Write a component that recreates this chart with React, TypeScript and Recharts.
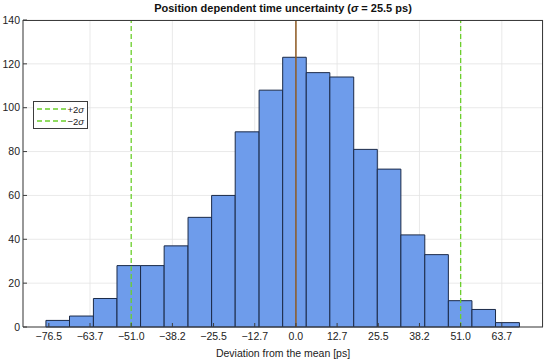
import React from 'react';
import {
  ComposedChart,
  XAxis,
  YAxis,
  CartesianGrid,
  ReferenceArea,
  ReferenceLine,
  Line,
} from 'recharts';

// histogram bin edges (ps) and counts
const binEdges = [
  -77.4, -70.1, -62.7, -55.4, -48.1, -40.8, -33.4, -26.1, -18.8, -11.4, -4.1,
  3.2, 10.5, 17.9, 25.2, 32.5, 39.9, 47.2, 54.5, 61.8, 69.2,
];
const counts = [3, 5, 13, 28, 28, 37, 50, 60, 89, 108, 123, 116, 114, 81, 72, 42, 33, 12, 8, 2];

const xTicks = [-76.5, -63.75, -51, -38.25, -25.5, -12.75, 0, 12.75, 25.5, 38.25, 51, 63.75];
const xTickLabels = ['−76.5', '−63.7', '−51.0', '−38.2', '−25.5', '−12.7', '0.0', '12.7', '25.5', '38.2', '51.0', '63.7'];
const yTicks = [0, 20, 40, 60, 80, 100, 120, 140];

const sigma = 25.5;
const plusTwoSigma = 51;
const minusTwoSigma = -51;
const meanLine = 0;

const bins = counts.map((c, i) => ({ x0: binEdges[i], x1: binEdges[i + 1], count: c }));

const FONT = 'Arial, "Liberation Sans", Helvetica, sans-serif';
const GREEN = '#6ccf2c';
const BAR_FILL = '#6e9ceb';
const BAR_EDGE = '#1b2a48';
const AXIS = '#3c3c3c';

function SigmaLegend() {
  const row = (label: string) => (
    <div style={{ display: 'flex', alignItems: 'center', height: 12 }}>
      <svg width={34} height={6}>
        <line x1={2} y1={3} x2={32} y2={3} stroke={GREEN} strokeWidth={1.3} strokeDasharray="5 3" />
      </svg>
      <span style={{ fontSize: 9.5, marginLeft: 1 }}>
        {label}
        <i>σ</i>
      </span>
    </div>
  );
  return (
    <div
      style={{
        position: 'absolute',
        left: 33,
        top: 101,
        border: `1px solid ${AXIS}`,
        background: '#fff',
        padding: '1px 3px 1px 1px',
        width: 49,
        fontFamily: FONT,
        color: '#222',
      }}
    >
      {row('+2')}
      {row('−2')}
    </div>
  );
}

export default function App() {
  return (
    <div style={{ position: 'absolute', left: 0, top: 0, width: 550, height: 360, background: '#fff', fontFamily: FONT }}>
      <div
        style={{
          position: 'absolute',
          left: 23,
          width: 520,
          top: 2,
          textAlign: 'center',
          fontSize: 11,
          fontWeight: 'bold',
          color: '#111',
        }}
      >
        Position dependent time uncertainty (<i>σ</i> = {sigma} ps)
      </div>
      <ComposedChart
        width={550}
        height={360}
        data={bins}
        margin={{ top: 20, right: 7, left: 3, bottom: 0 }}
      >
        <CartesianGrid stroke="#e3e3e3" strokeWidth={0.8} />
        <XAxis
          type="number"
          dataKey="x0"
          domain={[-84.5, 76.5]}
          ticks={xTicks}
          tickFormatter={(v: number) => xTickLabels[xTicks.indexOf(v)] ?? String(v)}
          allowDataOverflow
          height={33}
          stroke={AXIS}
          tick={{ fontSize: 10.5, fill: '#222' }}
          tickSize={-4}
          tickMargin={10}
          label={{ value: 'Deviation from the mean [ps]', position: 'insideBottom', offset: 3, fontSize: 10.5, fill: '#222' }}
        />
        <YAxis
          type="number"
          domain={[0, 140]}
          ticks={yTicks}
          width={20}
          stroke={AXIS}
          tick={{ fontSize: 10.5, fill: '#222' }}
          tickSize={-4}
          tickMargin={7}
        />
        {bins.map((b, i) => (
          <ReferenceArea
            key={`bin-${i}`}
            x1={b.x0}
            x2={b.x1}
            y1={0}
            y2={b.count}
            fill={BAR_FILL}
            fillOpacity={1}
            stroke={BAR_EDGE}
            strokeWidth={1}
          />
        ))}
        <ReferenceLine x={meanLine} stroke="#8f5a22" strokeWidth={1.5} />
        <ReferenceLine x={plusTwoSigma} stroke={GREEN} strokeWidth={1.3} strokeDasharray="5 3" />
        <ReferenceLine x={minusTwoSigma} stroke={GREEN} strokeWidth={1.3} strokeDasharray="5 3" />
        <Line dataKey="count" stroke="none" dot={false} isAnimationActive={false} legendType="none" />
      </ComposedChart>
      <div
        style={{
          position: 'absolute',
          left: 23,
          top: 20,
          width: 520,
          height: 307,
          boxSizing: 'border-box',
          borderTop: `1px solid ${AXIS}`,
          borderRight: `1px solid ${AXIS}`,
          pointerEvents: 'none',
        }}
      />
      <SigmaLegend />
    </div>
  );
}
